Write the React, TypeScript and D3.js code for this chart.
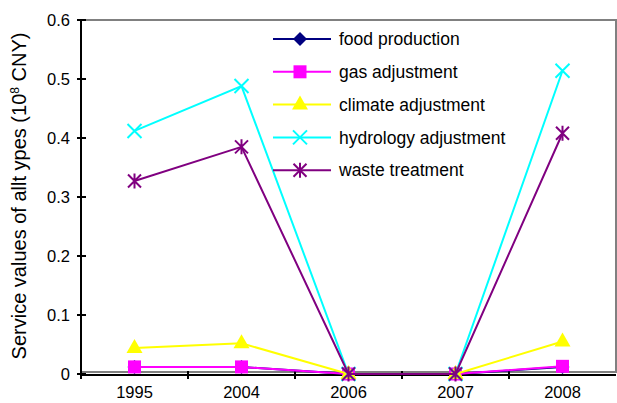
import React from 'react';
import * as d3 from 'd3';

const years = ['1995', '2004', '2006', '2007', '2008'];
const foodProduction = [0.012, 0.012, 0, 0, 0.012];
const gasAdjustment = [0.012, 0.012, 0, 0, 0.013];
const climateAdjustment = [0.044, 0.052, 0, 0, 0.055];
const hydrologyAdjustment = [0.412, 0.488, 0, 0, 0.514];
const wasteTreatment = [0.327, 0.385, 0, 0, 0.408];
const yTicks = [0, 0.1, 0.2, 0.3, 0.4, 0.5, 0.6];

const series = [
  { name: 'food production', values: foodProduction, color: '#000080', marker: 'diamond' },
  { name: 'gas adjustment', values: gasAdjustment, color: '#FF00FF', marker: 'square' },
  { name: 'climate adjustment', values: climateAdjustment, color: '#FFFF00', marker: 'triangle' },
  { name: 'hydrology adjustment', values: hydrologyAdjustment, color: '#00FFFF', marker: 'x' },
  { name: 'waste treatment', values: wasteTreatment, color: '#800080', marker: 'star' },
];

const LEFT = 81;
const RIGHT = 616;
const TOP = 20;
const BOTTOM = 374;
const FONT = 'Liberation Sans, Arial, sans-serif';

const Marker = ({ type, x, y, color }: { type: string; x: number; y: number; color: string }) => {
  if (type === 'diamond') {
    const s = 7;
    return <path d={`M${x},${y - s}L${x + s},${y}L${x},${y + s}L${x - s},${y}Z`} fill={color} />;
  }
  if (type === 'square') {
    return <rect x={x - 6.5} y={y - 6.5} width={13} height={13} fill={color} />;
  }
  if (type === 'triangle') {
    return <path d={`M${x},${y - 9}L${x + 8},${y + 5}L${x - 8},${y + 5}Z`} fill={color} />;
  }
  if (type === 'x') {
    const s = 7;
    return (
      <path
        d={`M${x - s},${y - s}L${x + s},${y + s}M${x + s},${y - s}L${x - s},${y + s}`}
        stroke={color}
        strokeWidth={2}
      />
    );
  }
  const s = 6.5;
  return (
    <path
      d={`M${x - s},${y - s}L${x + s},${y + s}M${x + s},${y - s}L${x - s},${y + s}M${x},${y - s - 1}L${x},${y + s + 1}`}
      stroke={color}
      strokeWidth={2}
    />
  );
};

const App = () => {
  const x = d3.scaleBand().domain(years).range([LEFT, RIGHT]);
  const y = d3.scaleLinear().domain([0, 0.6]).range([BOTTOM, TOP]);
  const cx = (yr: string) => (x(yr) as number) + x.bandwidth() / 2;

  const line = d3.line<number>()
    .x((_, i) => cx(years[i]))
    .y(d => y(d));

  const boundaries = years.map(yr => x(yr) as number);

  return (
    <svg width={617} height={403} style={{ position: 'absolute', left: 0, top: 0, background: '#fff' }}>
      <rect x={0} y={0} width={617} height={403} fill="#fff" />
      {/* plot frame */}
      <path d={`M${LEFT},${TOP}H${RIGHT}V${BOTTOM - 2}H${LEFT}`} fill="none" stroke="#808080" strokeWidth={2} />
      {/* y axis */}
      <line x1={LEFT} x2={LEFT} y1={TOP} y2={BOTTOM + 1} stroke="#000" strokeWidth={2} />
      {yTicks.map(t => (
        <g key={t}>
          <line x1={LEFT - 4} x2={LEFT + 5} y1={y(t)} y2={y(t)} stroke="#000" strokeWidth={2} />
          <text x={70} y={y(t)} dy="0.35em" textAnchor="end" fontFamily={FONT} fontSize={16.5}>
            {t === 0 ? '0' : t.toFixed(1)}
          </text>
        </g>
      ))}
      {/* x axis */}
      <line x1={LEFT} x2={RIGHT} y1={BOTTOM + 1} y2={BOTTOM + 1} stroke="#000" strokeWidth={2} />
      {boundaries.map((b, i) => (
        <line key={i} x1={b} x2={b} y1={BOTTOM - 3} y2={BOTTOM + 5} stroke="#000" strokeWidth={2} />
      ))}
      {years.map(yr => (
        <text key={yr} x={cx(yr)} y={398} textAnchor="middle" fontFamily={FONT} fontSize={16.5}>
          {yr}
        </text>
      ))}
      <text
        transform={`translate(26,196) rotate(-90)`}
        textAnchor="middle"
        fontFamily={FONT}
        fontSize={20}
      >
        Service values of allt ypes (10<tspan dy={-7} fontSize={12}>8</tspan>
        <tspan dy={7}> CNY)</tspan>
      </text>
      {/* series */}
      {series.map(s => (
        <g key={s.name}>
          <path d={line(s.values) || ''} fill="none" stroke={s.color} strokeWidth={2} />
          {s.values.map((v, i) => (
            <Marker key={i} type={s.marker} x={cx(years[i])} y={y(v)} color={s.color} />
          ))}
        </g>
      ))}
      {/* legend */}
      {series.map((s, i) => {
        const ly = 39 + i * 32.8;
        return (
          <g key={s.name}>
            <line x1={273} x2={331} y1={ly} y2={ly} stroke={s.color} strokeWidth={2} />
            <Marker type={s.marker} x={300} y={ly} color={s.color} />
            <text x={339} y={ly} dy="0.35em" fontFamily={FONT} fontSize={17.5}>
              {s.name}
            </text>
          </g>
        );
      })}
    </svg>
  );
};

export default App;
